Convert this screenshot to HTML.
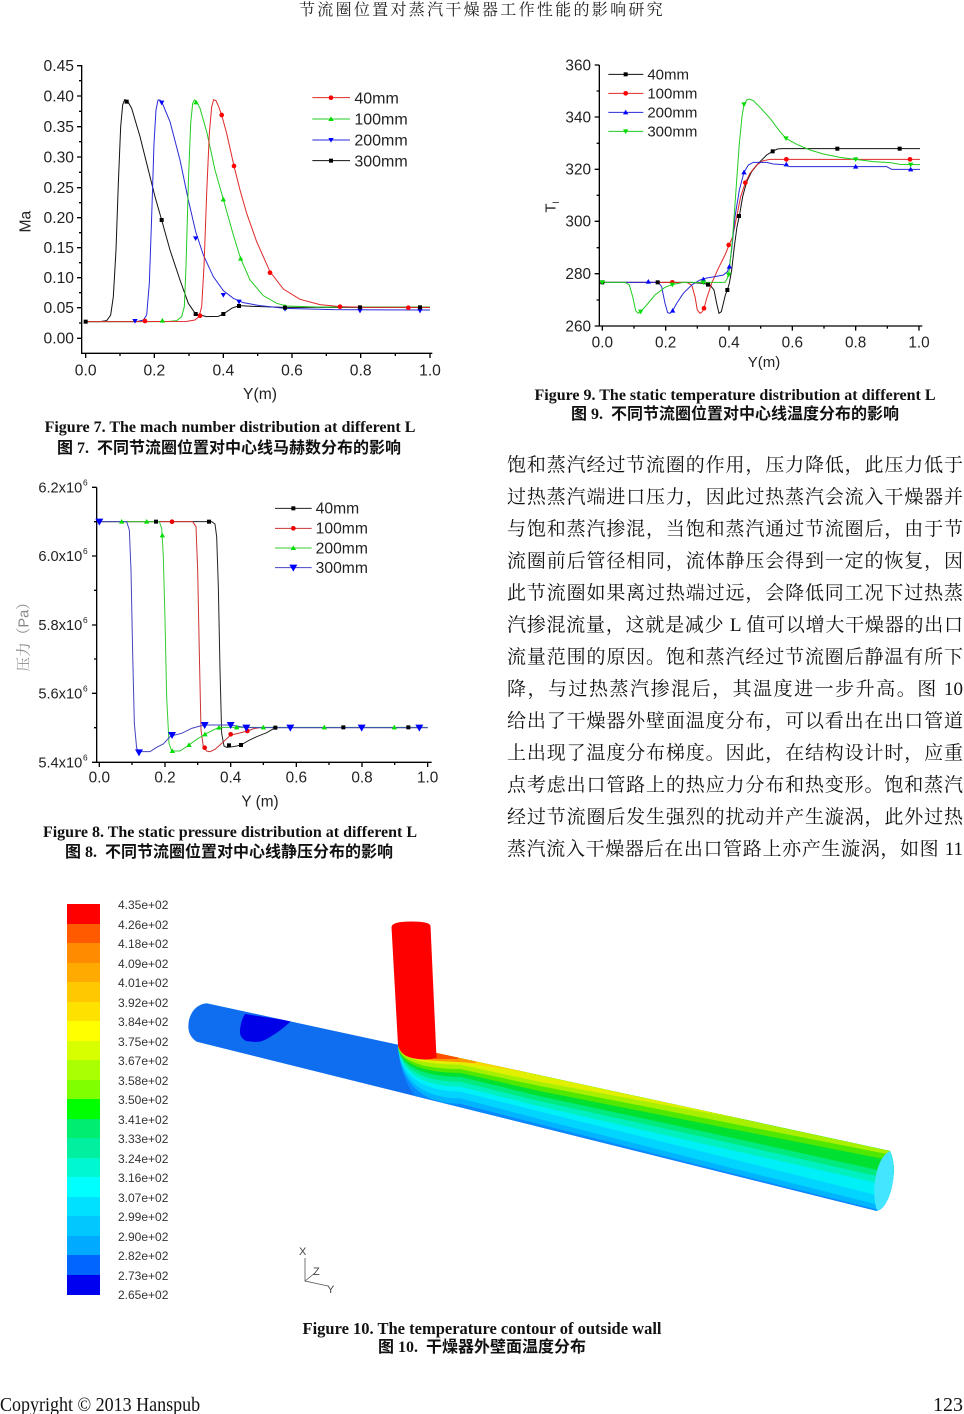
<!DOCTYPE html>
<html><head><meta charset="utf-8">
<style>
html,body{margin:0;padding:0;background:#fff;}
#pg{position:relative;width:964px;height:1414px;overflow:hidden;background:#fff;}
.abs{position:absolute;}
.hdr{left:0;top:1px;width:964px;text-align:center;font:16px/20px "Liberation Serif","Noto Serif CJK SC",serif;letter-spacing:2.3px;color:#222;}
.cap{position:absolute;width:600px;text-align:center;white-space:nowrap;font-weight:bold;color:#111;line-height:18px;}
.ce{font-family:"Liberation Serif",serif;font-size:16px;}
.cc{font-family:"Liberation Serif","Noto Sans CJK SC",sans-serif;font-size:16px;}
.body{left:507px;top:450px;width:456px;font:19px/32px "Liberation Serif","Noto Serif CJK SC",serif;color:#111;}
.body div{text-align:justify;text-align-last:justify;white-space:nowrap;height:32px;}
.cb{position:absolute;left:67px;width:33px;}
.cl{position:absolute;left:118px;font:12px/14px "Liberation Sans",Arial,sans-serif;color:#333;}
svg text{font-family:"Liberation Sans",Arial,sans-serif;}
</style></head>
<body><div id="pg">

<div class="abs hdr">节流圈位置对蒸汽干燥器工作性能的影响研究</div>

<!-- Figure 7 -->
<svg class="abs" style="left:0;top:50px" width="450" height="360" viewBox="0 0 1350 1080">
<defs>
<rect id="sq" x="-6" y="-6" width="12" height="12"/>
<circle id="ci" r="7"/>
<polygon id="tu" points="0,-8 8,6 -8,6"/>
<polygon id="td" points="0,8 8,-6 -8,-6"/>
</defs>
<g stroke="#000" stroke-width="4" fill="none">
<path d="M245,45V910H1297"/>
<path d="M231,47H245M231,138H245M231,230H245M231,321H245M231,413H245M231,503H245M231,593H245M231,683H245M231,773H245M231,865H245"/>
<path d="M237,92H245M237,184H245M237,275H245M237,367H245M237,458H245M237,548H245M237,638H245M237,728H245M237,819H245"/>
<path d="M257,910V924M463,910V924M670,910V924M876,910V924M1082,910V924M1290,910V924"/>
<path d="M360,910V918M567,910V918M773,910V918M979,910V918M1186,910V918"/>
</g>
<g font-size="47" fill="#222" text-anchor="end">
<text x="222" y="63">0.45</text><text x="222" y="154">0.40</text><text x="222" y="246">0.35</text><text x="222" y="337">0.30</text><text x="222" y="429">0.25</text><text x="222" y="519">0.20</text><text x="222" y="609">0.15</text><text x="222" y="699">0.10</text><text x="222" y="789">0.05</text><text x="222" y="881">0.00</text>
</g>
<g font-size="47" fill="#222" text-anchor="middle">
<text x="257" y="977">0.0</text><text x="463" y="977">0.2</text><text x="670" y="977">0.4</text><text x="876" y="977">0.6</text><text x="1082" y="977">0.8</text><text x="1290" y="977">1.0</text>
<text x="780" y="1047" font-size="47">Y(m)</text>
<text transform="translate(91,515) rotate(-90)" font-size="47">Ma</text>
</g>
<g fill="none" stroke-width="3">
<polyline stroke="#111" points="257,815 300,815 320,812 332,795 340,740 348,600 355,400 362,230 368,165 374,149 382,152 395,175 420,260 445,360 465,440 485,510 510,600 540,690 565,760 587,792 620,800 655,799 670,792 695,775 717,767 760,769 855,772 1290,772"/>
<polyline stroke="#2a2ad8" points="257,815 410,815 430,810 440,795 448,700 455,500 462,280 468,180 474,150 480,150 488,162 510,215 540,330 565,450 587,545 610,615 640,680 670,722 700,745 730,758 780,767 855,775 1000,779 1290,780"/>
<polyline stroke="#22cc22" points="257,815 500,815 530,812 545,800 553,770 558,650 565,400 572,220 578,160 583,150 590,155 600,175 620,245 645,360 670,448 700,555 722,626 750,690 790,737 830,760 860,768 950,771 1290,771"/>
<polyline stroke="#e02828" points="257,815 400,815 560,814 585,810 597,800 605,770 612,650 620,430 628,250 635,170 641,149 648,152 656,170 665,195 680,250 702,348 720,420 740,490 770,575 810,665 850,717 900,748 960,764 1020,770 1100,772 1290,772"/>
</g>
<g fill="#ff0000"><use href="#ci" x="435" y="813"/><use href="#ci" x="600" y="797"/><use href="#ci" x="665" y="195"/><use href="#ci" x="702" y="348"/><use href="#ci" x="810" y="668"/><use href="#ci" x="1020" y="770"/><use href="#ci" x="1225" y="773"/></g>
<g fill="#00dd00"><use href="#tu" x="487" y="812"/><use href="#tu" x="588" y="157"/><use href="#tu" x="670" y="448"/><use href="#tu" x="722" y="626"/><use href="#tu" x="855" y="770"/></g>
<g fill="#0000ff"><use href="#td" x="405" y="813"/><use href="#td" x="485" y="158"/><use href="#td" x="587" y="565"/><use href="#td" x="670" y="735"/><use href="#td" x="717" y="755"/><use href="#td" x="855" y="777"/><use href="#td" x="1080" y="782"/><use href="#td" x="1260" y="782"/></g>
<g fill="#000"><use href="#sq" x="257" y="815"/><use href="#sq" x="380" y="155"/><use href="#sq" x="485" y="510"/><use href="#sq" x="587" y="792"/><use href="#sq" x="670" y="792"/><use href="#sq" x="717" y="768"/><use href="#sq" x="855" y="773"/><use href="#sq" x="1080" y="772"/><use href="#sq" x="1260" y="772"/></g>
<g stroke-width="3">
<line x1="937" y1="143" x2="1050" y2="143" stroke="#e02828"/>
<line x1="937" y1="207" x2="1050" y2="207" stroke="#22cc22"/>
<line x1="937" y1="270" x2="1050" y2="270" stroke="#2a2ad8"/>
<line x1="937" y1="332" x2="1050" y2="332" stroke="#111"/>
</g>
<use href="#ci" x="993" y="143" fill="#ff0000"/><use href="#tu" x="993" y="207" fill="#00dd00"/><use href="#td" x="993" y="270" fill="#0000ff"/><use href="#sq" x="993" y="332" fill="#000"/>
<g font-size="48" fill="#222">
<text x="1063" y="160">40mm</text><text x="1063" y="224">100mm</text><text x="1063" y="287">200mm</text><text x="1063" y="349">300mm</text>
</g>
</svg>

<div class="cap ce" style="left:-70px;top:419px">Figure 7. The mach number distribution at different L</div>
<div class="cap cc" style="left:-71px;top:440px">图 7.&nbsp; 不同节流圈位置对中心线马赫数分布的影响</div>

<!-- Figure 9 -->
<svg class="abs" style="left:490px;top:50px" width="474" height="320" viewBox="0 0 1422 960">
<defs>
<rect id="sq2" x="-6" y="-6" width="12" height="12"/>
<circle id="ci2" r="7"/>
<polygon id="tu2" points="0,-8 8,6 -8,6"/>
<polygon id="td2" points="0,8 8,-6 -8,-6"/>
</defs>
<g stroke="#000" stroke-width="4" fill="none">
<path d="M328,45V828H1297"/>
<path d="M314,45H328M314,201H328M314,358H328M314,514H328M314,671H328M314,828H328"/>
<path d="M320,123H328M320,280H328M320,436H328M320,593H328M320,750H328"/>
<path d="M337,828V842M527,828V842M717,828V842M907,828V842M1097,828V842M1287,828V842"/>
<path d="M432,828V836M622,828V836M812,828V836M1002,828V836M1192,828V836"/>
</g>
<g font-size="46" fill="#222" text-anchor="end">
<text x="303" y="61">360</text><text x="303" y="217">340</text><text x="303" y="374">320</text><text x="303" y="530">300</text><text x="303" y="687">280</text><text x="303" y="844">260</text>
</g>
<g font-size="46" fill="#222" text-anchor="middle">
<text x="337" y="893">0.0</text><text x="527" y="893">0.2</text><text x="717" y="893">0.4</text><text x="907" y="893">0.6</text><text x="1097" y="893">0.8</text><text x="1287" y="893">1.0</text>
<text x="822" y="951" font-size="45">Y(m)</text>
</g>
<text transform="translate(197,488) rotate(-90)" font-size="45" fill="#222">T<tspan dy="10" font-size="27">l</tspan></text>
<g fill="none" stroke-width="3">
<polyline stroke="#111" points="337,697 600,697 640,700 660,705 672,720 680,760 687,790 694,785 700,760 706,735 712,720 718,700 725,660 733,590 741,530 748,498 758,440 770,395 785,365 805,340 830,315 848,304 862,297 875,296 1290,296"/>
<polyline stroke="#e02828" points="337,697 590,697 605,705 615,740 622,780 630,790 637,785 642,775 650,745 665,700 685,655 705,615 716,588 728,560 740,500 752,440 766,398 780,370 800,345 820,332 840,328 1290,328"/>
<polyline stroke="#2a2ad8" points="337,697 505,697 515,710 525,760 533,788 540,790 548,782 560,760 580,730 605,705 630,690 650,684 675,680 700,675 712,665 718,650 725,600 735,500 748,420 762,367 775,345 790,337 830,337 850,342 880,344 900,350 1190,350 1205,358 1290,358"/>
<polyline stroke="#22cc22" points="337,697 405,697 418,705 428,740 437,782 445,790 452,785 470,765 495,735 525,712 547,704 580,697 705,697 712,685 718,660 728,560 738,420 748,280 756,200 762,163 770,150 778,147 790,152 810,172 840,205 870,245 888,265 920,283 960,300 1000,312 1050,322 1097,328 1150,335 1200,338 1230,343 1290,344"/>
</g>
<g fill="#000"><use href="#sq2" x="337" y="697"/><use href="#sq2" x="503" y="697"/><use href="#sq2" x="654" y="704"/><use href="#sq2" x="712" y="720"/><use href="#sq2" x="747" y="498"/><use href="#sq2" x="848" y="304"/><use href="#sq2" x="1042" y="296"/><use href="#sq2" x="1229" y="296"/></g>
<g fill="#ff0000"><use href="#ci2" x="547" y="697"/><use href="#ci2" x="642" y="775"/><use href="#ci2" x="716" y="585"/><use href="#ci2" x="766" y="398"/><use href="#ci2" x="889" y="328"/><use href="#ci2" x="1260" y="328"/></g>
<g fill="#0000ff"><use href="#tu2" x="475" y="695"/><use href="#tu2" x="548" y="782"/><use href="#tu2" x="640" y="688"/><use href="#tu2" x="718" y="650"/><use href="#tu2" x="762" y="367"/><use href="#tu2" x="889" y="343"/><use href="#tu2" x="1097" y="350"/><use href="#tu2" x="1262" y="358"/></g>
<g fill="#00dd00"><use href="#td2" x="337" y="697"/><use href="#td2" x="452" y="785"/><use href="#td2" x="547" y="704"/><use href="#td2" x="640" y="697"/><use href="#td2" x="716" y="674"/><use href="#td2" x="762" y="163"/><use href="#td2" x="888" y="265"/><use href="#td2" x="1097" y="328"/><use href="#td2" x="1262" y="344"/></g>
<g stroke-width="3">
<line x1="355" y1="73" x2="460" y2="73" stroke="#111"/>
<line x1="355" y1="130" x2="460" y2="130" stroke="#e02828"/>
<line x1="355" y1="187" x2="460" y2="187" stroke="#2a2ad8"/>
<line x1="355" y1="244" x2="460" y2="244" stroke="#22cc22"/>
</g>
<use href="#sq2" x="407" y="73" fill="#000"/><use href="#ci2" x="407" y="130" fill="#ff0000"/><use href="#tu2" x="407" y="187" fill="#0000ff"/><use href="#td2" x="407" y="244" fill="#00dd00"/>
<g font-size="45" fill="#222">
<text x="472" y="89">40mm</text><text x="472" y="146">100mm</text><text x="472" y="203">200mm</text><text x="472" y="260">300mm</text>
</g>
</svg>

<div class="cap ce" style="left:435px;top:387px">Figure 9. The static temperature distribution at different L</div>
<div class="cap cc" style="left:435px;top:406px">图 9.&nbsp; 不同节流圈位置对中心线温度分布的影响</div>

<!-- Figure 8 -->
<svg class="abs" style="left:0;top:470px" width="450" height="350" viewBox="0 0 1350 1050">
<defs>
<rect id="sq3" x="-6" y="-6" width="12" height="12"/>
<circle id="ci3" r="7"/>
<polygon id="tu3" points="0,-8 8,6 -8,6"/>
<polygon id="td3" points="0,12 12,-9 -12,-9"/>
</defs>
<g stroke="#000" stroke-width="4" fill="none">
<path d="M290,52V877H1295"/>
<path d="M276,52H290M276,258H290M276,465H290M276,670H290M276,877H290"/>
<path d="M282,155H290M282,361H290M282,567H290M282,773H290"/>
<path d="M298,877V891M495,877V891M692,877V891M889,877V891M1086,877V891M1283,877V891"/>
<path d="M396,877V885M593,877V885M790,877V885M987,877V885M1184,877V885"/>
</g>
<g font-size="44" fill="#222" text-anchor="end">
<text x="247" y="67">6.2x10</text><text x="247" y="273">6.0x10</text><text x="247" y="480">5.8x10</text><text x="247" y="685">5.6x10</text><text x="247" y="892">5.4x10</text>
</g>
<g font-size="25" fill="#222">
<text x="249" y="46">6</text><text x="249" y="252">6</text><text x="249" y="459">6</text><text x="249" y="664">6</text><text x="249" y="871">6</text>
</g>
<g font-size="46" fill="#222" text-anchor="middle">
<text x="298" y="938">0.0</text><text x="495" y="938">0.2</text><text x="692" y="938">0.4</text><text x="889" y="938">0.6</text><text x="1086" y="938">0.8</text><text x="1283" y="938">1.0</text>
<text x="780" y="1009">Y (m)</text>
</g>
<text transform="translate(86,490) rotate(-90)" font-size="44" fill="#888" text-anchor="middle" style="font-family:'Liberation Sans','Noto Serif CJK SC',serif">压力（Pa）</text>
<g fill="none" stroke-width="3">
<polyline stroke="#222" points="298,155 635,155 645,162 650,200 655,350 660,600 665,790 672,828 680,832 700,830 710,828 723,825 745,812 770,800 800,788 826,773 1283,773"/>
<polyline stroke="#cc3333" points="298,155 578,155 588,170 593,300 598,550 603,780 610,830 620,843 630,845 645,838 665,820 692,795 715,790 742,783 762,776 780,773"/>
<polyline stroke="#33cc33" points="298,155 478,155 485,175 490,260 495,450 500,680 507,820 515,843 540,843 567,825 590,808 615,793 640,780 657,772 1283,772"/>
<polyline stroke="#4444c0" points="298,155 380,155 388,180 393,300 398,550 403,760 410,835 418,845 450,845 470,832 490,822 510,800 520,796 545,790 575,775 600,768 614,765 692,765 720,770 739,773 1283,773"/>
</g>
<g fill="#000"><use href="#sq3" x="468" y="155"/><use href="#sq3" x="627" y="155"/><use href="#sq3" x="687" y="826"/><use href="#sq3" x="723" y="825"/><use href="#sq3" x="826" y="773"/><use href="#sq3" x="1030" y="772"/><use href="#sq3" x="1225" y="772"/></g>
<g fill="#ee0000"><use href="#ci3" x="516" y="155"/><use href="#ci3" x="614" y="833"/><use href="#ci3" x="692" y="793"/><use href="#ci3" x="742" y="783"/></g>
<g fill="#00dd00"><use href="#tu3" x="365" y="155"/><use href="#tu3" x="440" y="155"/><use href="#tu3" x="487" y="196"/><use href="#tu3" x="517" y="843"/><use href="#tu3" x="567" y="825"/><use href="#tu3" x="615" y="793"/><use href="#tu3" x="657" y="773"/><use href="#tu3" x="710" y="772"/><use href="#tu3" x="790" y="772"/><use href="#tu3" x="973" y="772"/><use href="#tu3" x="1183" y="772"/></g>
<g fill="#0000ff"><use href="#td3" x="298" y="155"/><use href="#td3" x="417" y="847"/><use href="#td3" x="516" y="795"/><use href="#td3" x="614" y="765"/><use href="#td3" x="692" y="765"/><use href="#td3" x="739" y="773"/><use href="#td3" x="871" y="773"/><use href="#td3" x="1085" y="773"/><use href="#td3" x="1258" y="773"/></g>
<g stroke-width="3">
<line x1="825" y1="115" x2="935" y2="115" stroke="#222"/>
<line x1="825" y1="175" x2="935" y2="175" stroke="#cc3333"/>
<line x1="825" y1="234" x2="935" y2="234" stroke="#33cc33"/>
<line x1="825" y1="293" x2="935" y2="293" stroke="#4444c0"/>
</g>
<use href="#sq3" x="880" y="115" fill="#000"/><use href="#ci3" x="880" y="175" fill="#ee0000"/><use href="#tu3" x="880" y="234" fill="#00dd00"/><use href="#td3" x="880" y="293" fill="#0000ff"/>
<g font-size="47" fill="#222">
<text x="947" y="131">40mm</text><text x="947" y="191">100mm</text><text x="947" y="250">200mm</text><text x="947" y="309">300mm</text>
</g>
</svg>

<div class="cap ce" style="left:-70px;top:824px">Figure 8. The static pressure distribution at different L</div>
<div class="cap cc" style="left:-71px;top:844px">图 8.&nbsp; 不同节流圈位置对中心线静压分布的影响</div>

<!-- Body text -->
<div class="abs body">
<div>饱和蒸汽经过节流圈的作用，压力降低，此压力低于</div>
<div>过热蒸汽端进口压力，因此过热蒸汽会流入干燥器并</div>
<div>与饱和蒸汽掺混，当饱和蒸汽通过节流圈后，由于节</div>
<div>流圈前后管径相同，流体静压会得到一定的恢复，因</div>
<div>此节流圈如果离过热端过远，会降低同工况下过热蒸</div>
<div>汽掺混流量，这就是减少 L 值可以增大干燥器的出口</div>
<div>流量范围的原因。饱和蒸汽经过节流圈后静温有所下</div>
<div>降，与过热蒸汽掺混后，其温度进一步升高。图 10</div>
<div>给出了干燥器外壁面温度分布，可以看出在出口管道</div>
<div>上出现了温度分布梯度。因此，在结构设计时，应重</div>
<div>点考虑出口管路上的热应力分布和热变形。饱和蒸汽</div>
<div>经过节流圈后发生强烈的扰动并产生漩涡，此外过热</div>
<div>蒸汽流入干燥器后在出口管路上亦产生漩涡，如图 11</div>
</div>

<!-- Figure 10 colorbar -->
<div class="cb" style="top:904px;height:20px;background:#ff0000"></div>
<div class="cb" style="top:923.5px;height:20px;background:#ff5a00"></div>
<div class="cb" style="top:943px;height:20px;background:#ff8c00"></div>
<div class="cb" style="top:962.5px;height:20px;background:#ffaa00"></div>
<div class="cb" style="top:982px;height:20px;background:#ffc800"></div>
<div class="cb" style="top:1001.5px;height:20px;background:#ffe100"></div>
<div class="cb" style="top:1021px;height:20px;background:#ffff00"></div>
<div class="cb" style="top:1040.5px;height:20px;background:#d7ff00"></div>
<div class="cb" style="top:1060px;height:20px;background:#aaff00"></div>
<div class="cb" style="top:1079.5px;height:20px;background:#7fff00"></div>
<div class="cb" style="top:1099px;height:20px;background:#00ff00"></div>
<div class="cb" style="top:1118.5px;height:20px;background:#00ee70"></div>
<div class="cb" style="top:1138px;height:20px;background:#00f0a0"></div>
<div class="cb" style="top:1157.5px;height:20px;background:#00f8d0"></div>
<div class="cb" style="top:1177px;height:20px;background:#00ffff"></div>
<div class="cb" style="top:1196.5px;height:20px;background:#00e0ff"></div>
<div class="cb" style="top:1216px;height:20px;background:#00c8ff"></div>
<div class="cb" style="top:1235.5px;height:20px;background:#00aaff"></div>
<div class="cb" style="top:1255px;height:20px;background:#0066ff"></div>
<div class="cb" style="top:1274.5px;height:20.5px;background:#0000f0"></div>

<div class="cl" style="top:898px">4.35e+02</div>
<div class="cl" style="top:917.5px">4.26e+02</div>
<div class="cl" style="top:937px">4.18e+02</div>
<div class="cl" style="top:956.5px">4.09e+02</div>
<div class="cl" style="top:976px">4.01e+02</div>
<div class="cl" style="top:995.5px">3.92e+02</div>
<div class="cl" style="top:1015px">3.84e+02</div>
<div class="cl" style="top:1034.5px">3.75e+02</div>
<div class="cl" style="top:1054px">3.67e+02</div>
<div class="cl" style="top:1073.5px">3.58e+02</div>
<div class="cl" style="top:1093px">3.50e+02</div>
<div class="cl" style="top:1112.5px">3.41e+02</div>
<div class="cl" style="top:1132px">3.33e+02</div>
<div class="cl" style="top:1151.5px">3.24e+02</div>
<div class="cl" style="top:1171px">3.16e+02</div>
<div class="cl" style="top:1190.5px">3.07e+02</div>
<div class="cl" style="top:1210px">2.99e+02</div>
<div class="cl" style="top:1229.5px">2.90e+02</div>
<div class="cl" style="top:1249px">2.82e+02</div>
<div class="cl" style="top:1268.5px">2.73e+02</div>
<div class="cl" style="top:1288px">2.65e+02</div>

<!-- Figure 10 pipe -->
<svg class="abs" style="left:0;top:880px" width="964" height="430" viewBox="0 880 964 430">
<defs>
<clipPath id="pc"><path d="M206.7,1003.3 L890,1151 Q897,1166 891,1190 Q886,1208 877,1211 L196.7,1041.7 Q186,1035 189,1020 Q193,1005 206.7,1003.3 Z"/></clipPath>
</defs>
<path d="M206.7,1003.3 L890,1151 Q897,1166 891,1190 Q886,1208 877,1211 L196.7,1041.7 Q186,1035 189,1020 Q193,1005 206.7,1003.3 Z" fill="#0f6ef0"/>
<g clip-path="url(#pc)">
<path d="M245,1014 L291,1021 Q282,1030 270,1037 Q263,1042 255,1042 L246,1041 Q239,1037 240,1030 Q241,1020 245,1014 Z" fill="#0000e8"/>
<path d="M398,1046 C400,1075 410,1095 430,1112 L900,1230 L900,1140 L437,1040 Z" fill="#0a88ff"/>
<path d="M398,1046 C400,1080.8 420,1103.7 460,1103.7 L540,1124.4 L700,1165.1 L885,1211.5 L900,1211.5 L900,1140 L437,1040 Z" fill="#00b4ff"/>
<path d="M398,1046 C400,1077.4 420,1098.3 460,1098.3 L540,1119.3 L700,1160 L885,1206.5 L900,1206.5 L900,1140 L437,1040 Z" fill="#00d4ff"/>
<path d="M398,1046 C400,1073.3 420,1091.5 460,1091.5 L540,1111.6 L700,1151 L885,1197.2 L900,1197.2 L900,1140 L437,1040 Z" fill="#00f0f8"/>
<path d="M398,1046 C400,1070.4 420,1086.6 460,1086.6 L540,1106.5 L700,1143.1 L885,1184.7 L900,1184.7 L900,1140 L437,1040 Z" fill="#00f0c0"/>
<path d="M398,1046 C400,1067.4 420,1081.7 460,1081.7 L540,1101.3 L700,1136.3 L885,1177.9 L900,1177.9 L900,1140 L437,1040 Z" fill="#00ea80"/>
<path d="M398,1046 C400,1064.5 420,1076.8 460,1076.8 L540,1096.2 L700,1130.7 L885,1171.6 L900,1171.6 L900,1140 L437,1040 Z" fill="#00e030"/>
<path d="M398,1046 C400,1062.1 420,1072.9 460,1072.9 L540,1091.1 L700,1122.8 L885,1159.2 L900,1159.2 L900,1140 L437,1040 Z" fill="#50e800"/>
<path d="M398,1046 C400,1059.8 420,1069 460,1069 L540,1086 L700,1117.2 L885,1153.6 L900,1153.6 L900,1140 L437,1040 Z" fill="#a8f000"/>
<path d="M398,1046 C400,1057.2 420,1064.6 460,1064.6 L540,1081.9 L700,1111.5 L885,1144.3 L900,1144.3 L900,1140 L437,1040 Z" fill="#e0f000"/>
<path d="M398,1046 C400,1050 420,1061.7 460,1061.7 L540,1074.7 L700,1099 L885,1132 L900,1132 L900,1120 L437,1040 Z" fill="#ffd200"/>
<path d="M398,1046 C402,1053 412,1060 440,1061 L475,1063 L485,1055 L437,1040 Z" fill="#ff9800"/>
<path d="M398,1046 C403,1052 412,1058 440,1059 L458,1059 L462,1052 L437,1040 Z" fill="#ff5000"/>
</g>
<path d="M890,1151 Q897,1166 891,1190 Q886,1208 877,1211 Q872,1195 876,1175 Q880,1156 890,1151 Z" fill="#44e6ff"/>
<path d="M391.5,927 Q392,921.5 411,921.5 Q430,921.5 430.5,926 L436.5,1058 Q425,1061 412,1058 Q400,1055 398,1045 Z" fill="#ff0000"/>
<g stroke="#555" stroke-width="0.8" fill="none">
<path d="M305,1258 V1281 L328,1286 M305,1281 L315,1273"/>
</g>
<g font-size="11" fill="#444">
<text x="299" y="1255">X</text>
<text x="313" y="1275">Z</text>
<text x="327" y="1293">Y</text>
</g>
</svg>

<div class="cap ce" style="left:182px;top:1320px;font-size:16.5px">Figure 10. The temperature contour of outside wall</div>
<div class="cap cc" style="left:182px;top:1339px">图 10.&nbsp; 干燥器外壁面温度分布</div>

<div class="abs" style="left:0;top:1393px;font:20px/24px 'Liberation Serif',serif;color:#111;transform:scaleX(0.9);transform-origin:0 0;white-space:nowrap">Copyright © 2013 Hanspub</div>
<div class="abs" style="right:1px;top:1393px;font:20px/24px 'Liberation Serif',serif;color:#111;white-space:nowrap">123</div>

</div></body></html>
